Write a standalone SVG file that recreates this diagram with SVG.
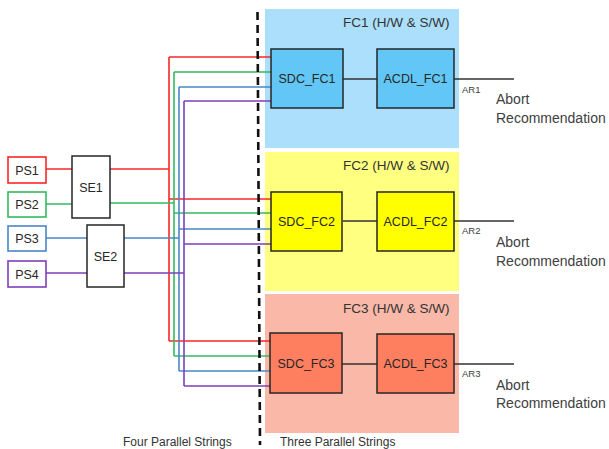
<svg xmlns="http://www.w3.org/2000/svg" width="609" height="449" viewBox="0 0 609 449">
<style>
text{font-family:"Liberation Sans",Arial,sans-serif;fill:#262626}
.lbl{font-size:12.5px;text-anchor:middle}
.ttl{font-size:13.5px;fill:#333}
.ab{font-size:14px;fill:#404040}
.ar{font-size:9.5px;fill:#404040}
.bot{font-size:12px;fill:#333}
.w{fill:none;stroke-width:1.6}
.r{stroke:#FF2626}.g{stroke:#33BB60}.b{stroke:#4A86C6}.p{stroke:#7E3FBA}
.ps{fill:#fff;stroke-width:1.6}
.se{fill:#fff;stroke:#262626;stroke-width:1.5}
.k{stroke:#333;stroke-width:1.6;fill:none}
.bx{stroke:#262626;stroke-width:1.5}
</style>
<g id="backgrounds">
<rect id="FC1" x="265" y="9" width="194" height="139" fill="#ACDFFB"/>
<rect id="FC2" x="265" y="152" width="194" height="139" fill="#FFFF80"/>
<rect id="FC3" x="265" y="294" width="194" height="139" fill="#F9B8A8"/>
<text class="ttl" x="343" y="27">FC1 (H/W &amp; S/W)</text>
<text class="ttl" x="343" y="170">FC2 (H/W &amp; S/W)</text>
<text class="ttl" x="343" y="313">FC3 (H/W &amp; S/W)</text>
</g>
<g id="connectors">
<path class="w r" d="M46 169H72M110 169H169M169 57V341M169 57H271M169 199H271M169 341H271"/>
<path class="w g" d="M46 204H72M110 203H174M174 72V356M174 72H271M174 213H271M174 356H271"/>
<path class="w b" d="M46 238H87M124 238H179M179 87V371M179 87H271M179 229H271M179 371H271"/>
<path class="w p" d="M46 273H87M124 273H184M184 101V386M184 101H271M184 244H271M184 386H271"/>
<path class="k" d="M343 79H377M454 79H514M343 221H377M454 221H514M342 364H377M454 364H514"/>
</g>
<line id="divider" x1="257.5" y1="12" x2="260" y2="445" stroke="#111" stroke-width="2.6" stroke-dasharray="8,5"/>
<g id="PS1"><rect class="ps r" x="8" y="157" width="38" height="26"/><text class="lbl" x="27" y="174.5">PS1</text></g>
<g id="PS2"><rect class="ps g" x="8" y="192" width="38" height="25"/><text class="lbl" x="27" y="209">PS2</text></g>
<g id="PS3"><rect class="ps b" x="8" y="226" width="38" height="25"/><text class="lbl" x="27" y="243">PS3</text></g>
<g id="PS4"><rect class="ps p" x="8" y="261" width="38" height="26"/><text class="lbl" x="27" y="278.5">PS4</text></g>
<g id="SE1"><rect class="se" x="72" y="156" width="38" height="62"/><text class="lbl" x="91" y="191.5">SE1</text></g>
<g id="SE2"><rect class="se" x="87" y="225" width="37" height="62"/><text class="lbl" x="105.5" y="260.5">SE2</text></g>
<g id="SDC_FC1"><rect class="bx" x="271" y="49" width="72" height="59" fill="#62C6F7"/><text class="lbl" x="307" y="83">SDC_FC1</text></g>
<g id="ACDL_FC1"><rect class="bx" x="377" y="49" width="77" height="59" fill="#62C6F7"/><text class="lbl" x="415.5" y="83">ACDL_FC1</text></g>
<g id="SDC_FC2"><rect class="bx" x="271" y="192" width="71" height="59" fill="#FFFF00"/><text class="lbl" x="306.5" y="226">SDC_FC2</text></g>
<g id="ACDL_FC2"><rect class="bx" x="377" y="192" width="77" height="59" fill="#FFFF00"/><text class="lbl" x="415.5" y="226">ACDL_FC2</text></g>
<g id="SDC_FC3"><rect class="bx" x="270" y="333" width="72" height="60" fill="#FE7F5F"/><text class="lbl" x="306" y="367.5">SDC_FC3</text></g>
<g id="ACDL_FC3"><rect class="bx" x="377" y="334" width="77" height="59" fill="#FE7F5F"/><text class="lbl" x="415.5" y="368">ACDL_FC3</text></g>
<g id="outputs">
<text class="ar" x="462" y="93">AR1</text>
<text class="ab" x="496" y="104">Abort</text>
<text class="ab" x="496" y="123">Recommendation</text>
<text class="ar" x="462" y="234">AR2</text>
<text class="ab" x="496" y="247">Abort</text>
<text class="ab" x="496" y="265.5">Recommendation</text>
<text class="ar" x="462" y="377">AR3</text>
<text class="ab" x="496" y="390">Abort</text>
<text class="ab" x="496" y="408">Recommendation</text>
</g>
<text class="bot" x="123" y="446">Four Parallel Strings</text>
<text class="bot" x="280" y="446">Three Parallel Strings</text>
</svg>
